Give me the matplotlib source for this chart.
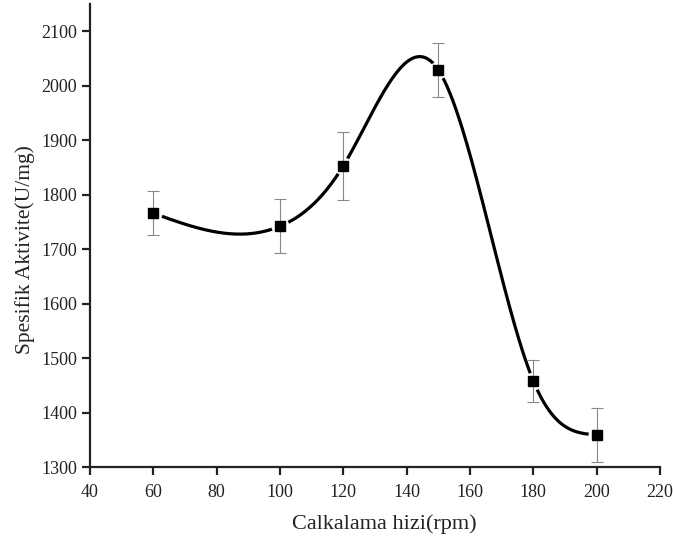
import matplotlib
matplotlib.use('Agg')
import matplotlib.pyplot as plt
import numpy as np

# Calkalama hizi (rpm) vs spesifik aktivite
rpm = [60, 100, 120, 150, 180, 200]
aktivite = [1766, 1742, 1853, 2029, 1458, 1359]
hata = [40, 50, 62, 50, 38, 50]


def natural_spline(x, y, n=400):
    # natural cubic spline through the measured points
    x = np.asarray(x, float)
    y = np.asarray(y, float)
    k = len(x)
    h = np.diff(x)
    A = np.zeros((k, k))
    b = np.zeros(k)
    A[0, 0] = A[-1, -1] = 1.0
    for i in range(1, k - 1):
        A[i, i - 1] = h[i - 1]
        A[i, i] = 2 * (h[i - 1] + h[i])
        A[i, i + 1] = h[i]
        b[i] = 6 * ((y[i + 1] - y[i]) / h[i] - (y[i] - y[i - 1]) / h[i - 1])
    M = np.linalg.solve(A, b)
    xs = np.linspace(x[0], x[-1], n)
    idx = np.clip(np.searchsorted(x, xs) - 1, 0, k - 2)
    x0, x1 = x[idx], x[idx + 1]
    hh = x1 - x0
    t0, t1 = x1 - xs, xs - x0
    ys = (M[idx] * t0**3 + M[idx + 1] * t1**3) / (6 * hh) \
        + (y[idx] / hh - M[idx] * hh / 6) * t0 \
        + (y[idx + 1] / hh - M[idx + 1] * hh / 6) * t1
    return xs, ys


plt.rcParams['font.family'] = ['Liberation Serif', 'DejaVu Serif']

fig = plt.figure(figsize=(6.73, 5.45), dpi=100)
ax = fig.add_axes([0.1337, 0.1431, 0.8470, 0.8495])

xs, ys = natural_spline(rpm, aktivite)
ax.plot(xs, ys, color='black', lw=2.3, zorder=2)
# white halo leaves a small gap in the curve around each point
ax.plot(rpm, aktivite, 'o', ms=13, color='white', mec='none', zorder=3)
ax.errorbar(rpm, aktivite, yerr=hata, fmt='none', ecolor='#888888',
            elinewidth=0.8, capsize=4, capthick=0.8, zorder=4)
ax.plot(rpm, aktivite, 's', ms=7, color='black', zorder=5)

ax.set_xlim(40, 220)
ax.set_ylim(1300, 2150)
ax.set_xticks(np.arange(40, 221, 20))
ax.set_yticks(np.arange(1300, 2101, 100))

for s in ['top', 'right']:
    ax.spines[s].set_visible(False)
for s in ['left', 'bottom']:
    ax.spines[s].set_linewidth(1.6)
    ax.spines[s].set_color('#222222')

ax.tick_params(direction='out', length=6, width=1.6, color='#222222',
               labelsize=13, labelcolor='#222222')
ax.tick_params(axis='x', pad=6)

ax.set_xlabel('Calkalama hizi(rpm)', fontsize=16, color='#222222')
ax.set_ylabel('Spesifik Aktivite(U/mg)', fontsize=15.5, color='#222222')
ax.xaxis.set_label_coords(0.516, -0.103)
ax.yaxis.set_label_coords(-0.097, 0.47)

fig.savefig('out.png', dpi=100)
